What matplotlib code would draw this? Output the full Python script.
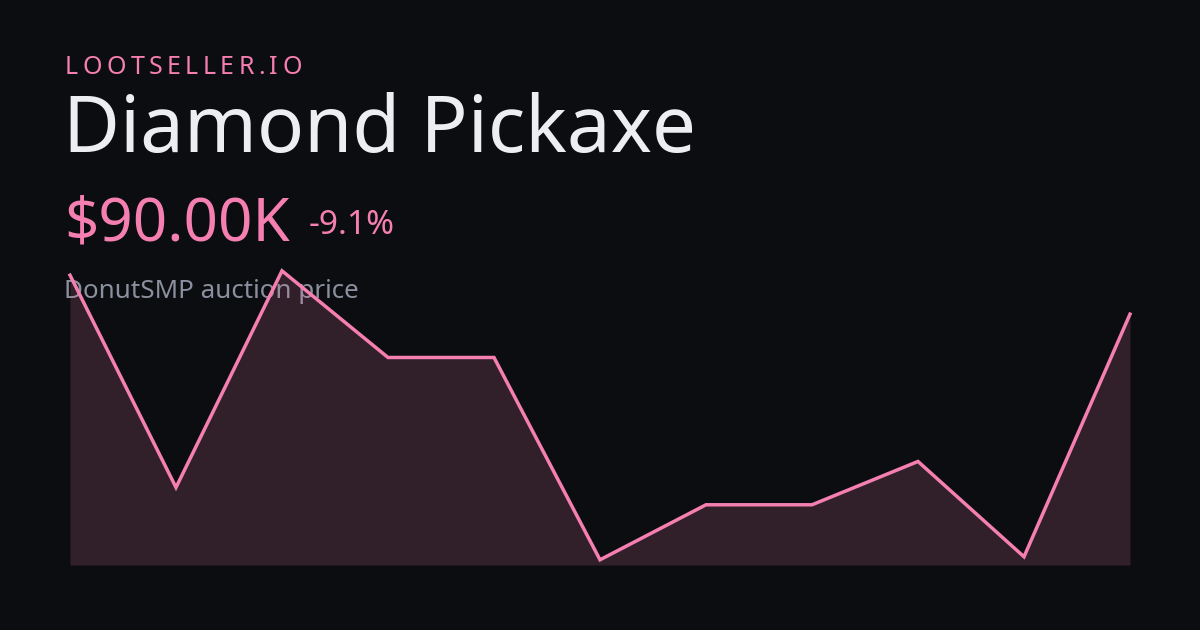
import matplotlib
matplotlib.use("Agg")
import matplotlib.pyplot as plt

# ---- data ----
brand = "LOOTSELLER.IO"
item_name = "Diamond Pickaxe"
price_label = "$90.00K"
change_label = "-9.1%"
subtitle = "DonutSMP auction price"
prices_k = [99, 50, 100, 80, 80, 33.3, 46, 46, 56, 34, 90]

BG = "#0c0d10"
PINK = "#f47fb0"
WHITE = "#eceef2"
GREY = "#8b909e"

W, H = 1200, 630
fig = plt.figure(figsize=(W / 100, H / 100), dpi=100)
fig.patch.set_facecolor(BG)
plt.rcParams['font.family'] = ['Noto Sans', 'DejaVu Sans']

def px(v):
    return v * 0.72  # pixel size to points at 100 dpi

def fx(x):
    return x / W

def fy(y):
    return 1 - y / H

# chart axes
left, right, bottom, top = 70, 1130, 565, 260
ax = fig.add_axes([fx(left), fy(bottom), (right - left) / W, (bottom - top) / H])
ax.set_zorder(5)
ax.patch.set_alpha(0)
xs = list(range(len(prices_k)))
ax.fill_between(xs, prices_k, 32.1, color=PINK, alpha=0.16, linewidth=0)
ax.plot(xs, prices_k, color=PINK, linewidth=2.5, solid_joinstyle='miter', clip_on=False)
ax.set_xlim(0, len(prices_k) - 1)
ax.set_ylim(32.1, 102.5)
ax.axis('off')

# brand with letter spacing
fig.canvas.draw()
renderer = fig.canvas.get_renderer()
x = 65
for ch in brand:
    t = fig.text(fx(x), fy(74), ch, color=PINK, fontsize=px(25), va='baseline', ha='left')
    bb = t.get_window_extent(renderer)
    x += bb.width + 4.4

fig.text(fx(63), fy(152), item_name, color=WHITE, fontsize=px(78), va='baseline', ha='left')
fig.text(fx(64), fy(241), price_label, color=PINK, fontsize=px(60), va='baseline', ha='left')
fig.text(fx(309), fy(234), change_label, color=PINK, fontsize=px(33.5), va='baseline', ha='left')
fig.text(fx(64), fy(298), subtitle, color=GREY, fontsize=px(26), va='baseline', ha='left')

fig.savefig("out.png", dpi=100, facecolor=BG)
